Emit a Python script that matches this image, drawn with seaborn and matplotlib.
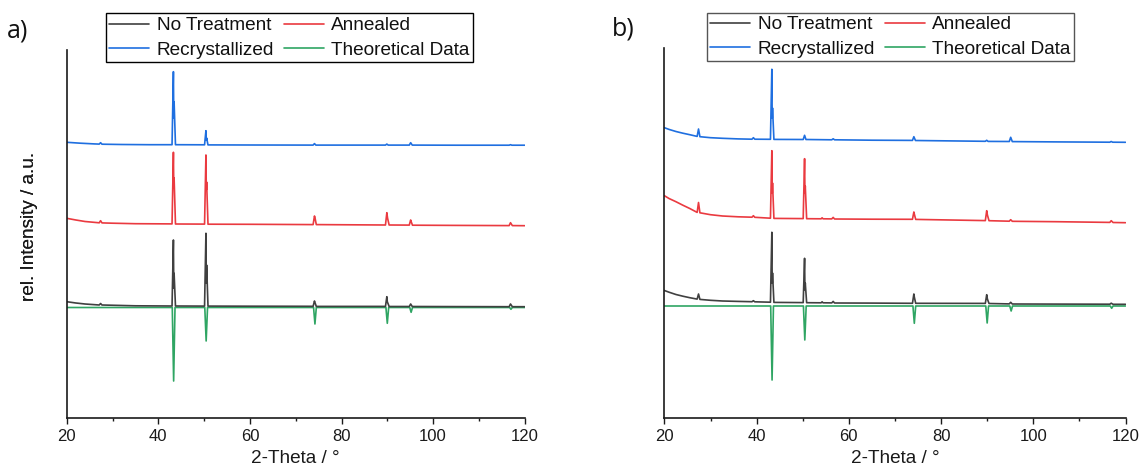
import numpy as np
import pandas as pd
import matplotlib
matplotlib.use("Agg")
import matplotlib.pyplot as plt
from matplotlib.ticker import MultipleLocator
import seaborn as sns

# ---------------- data (2-Theta in deg, rel. intensity in a.u., offset stacked) -------------
series_names = ["No Treatment", "Annealed", "Recrystallized", "Theoretical Data"]
colors = {"No Treatment": "#404040", "Annealed": "#ea3a40",
          "Recrystallized": "#1f6fe0", "Theoretical Data": "#2fa563"}

# panel a)
blue_a = [(20, 275.7), (23, 274.8), (26, 274.1), (27.1, 273.9), (27.4, 275.3), (27.7, 273.8), (32, 273.5),
          (38, 273.3), (43.0, 273.3), (43.3, 346.3), (43.38, 300), (43.45, 316.3), (43.75, 273.3),
          (50.1, 273.2), (50.4, 287.3), (50.48, 278), (50.55, 280), (50.85, 273.1), (60, 273.0),
          (73.8, 272.9), (74.1, 274.4), (74.4, 272.9), (89.6, 272.9), (89.9, 273.9), (90.2, 272.9),
          (94.8, 272.9), (95.1, 275.3), (95.45, 272.9), (105, 272.8), (116.6, 272.8), (116.9, 273.3),
          (117.2, 272.8), (120, 272.8)]
red_a = [(20, 199.7), (22, 198.0), (24, 196.5), (27.1, 195.2), (27.4, 197.3), (27.7, 195.1), (30, 194.8),
         (35, 194.3), (43.0, 194.1), (43.3, 265.7), (43.38, 230), (43.45, 240), (43.75, 194.0),
         (50.1, 193.9), (50.4, 263.0), (50.48, 228), (50.55, 236), (50.85, 193.8), (60, 193.7),
         (73.8, 193.4), (74.1, 202.0), (74.2, 200.5), (74.5, 193.4), (89.6, 193.0), (89.9, 205.3),
         (90.05, 200), (90.4, 193.0), (94.8, 192.9), (95.1, 198.0), (95.2, 196.5), (95.5, 192.8),
         (105, 192.6), (116.6, 192.4), (116.9, 195.3), (117.3, 192.4), (120, 192.3)]
black_a = [(20, 116.3), (22, 115.0), (24, 114.0), (27.1, 113.0), (27.4, 114.5), (27.7, 113.0), (35, 112.2),
           (43.0, 112.0), (43.3, 178.0), (43.38, 130), (43.45, 144.7), (43.75, 112.0), (50.1, 111.9),
           (50.4, 184.7), (50.48, 135), (50.55, 153.0), (50.85, 111.9), (60, 111.8), (73.8, 111.7),
           (74.1, 117.0), (74.2, 115.5), (74.5, 111.6), (89.6, 111.6), (89.9, 121.3), (90.0, 116.3),
           (90.4, 111.5), (94.8, 111.5), (95.1, 114.0), (95.45, 111.5), (105, 111.4), (116.6, 111.3),
           (116.9, 114.0), (117.3, 111.3), (120, 111.3)]
green_a = [(20, 110.5), (43.05, 110.5), (43.35, 37.0), (43.65, 110.5), (50.15, 110.5), (50.45, 77.0),
           (50.75, 110.5), (73.9, 110.5), (74.2, 94.0), (74.5, 110.5), (89.7, 110.5), (90.0, 94.7),
           (90.3, 110.5), (94.9, 110.5), (95.2, 105.7), (95.5, 110.5), (116.7, 110.5), (117.0, 108.7),
           (117.3, 110.5), (120, 110.5)]

# panel b)
blue_b = [(20, 290.3), (21, 288.6), (22.5, 286.5), (24, 284.8), (25.5, 283.3), (27.1, 281.6), (27.4, 289.0),
          (27.7, 281.3), (30, 280.3), (32.6, 279.7), (36, 279.1), (39.0, 278.8), (39.3, 280.3),
          (39.6, 278.8), (43.0, 278.7), (43.3, 348.7), (43.38, 300), (43.45, 310), (43.75, 278.6),
          (50.1, 278.5), (50.4, 282.7), (50.7, 278.5), (56.3, 278.2), (56.6, 279.2), (56.9, 278.2),
          (65, 277.8), (73.8, 277.6), (74.1, 281.3), (74.45, 277.5), (89.6, 276.7), (89.9, 277.7),
          (90.2, 276.6), (94.8, 276.5), (95.1, 280.7), (95.45, 276.4), (105, 276.1), (116.6, 275.8),
          (116.9, 276.5), (117.2, 275.8), (120, 275.7)]
red_b = [(20, 222.3), (21, 219.5), (22.5, 216.3), (24, 212.8), (25.5, 209.5), (27.1, 205.6), (27.4, 215.5),
         (27.7, 205.2), (30, 203.3), (32.6, 202.0), (36, 201.2), (39.0, 200.8), (39.3, 202.3),
         (39.6, 200.7), (43.0, 199.8), (43.3, 267.3), (43.38, 225), (43.45, 235), (43.75, 199.6),
         (50.1, 199.4), (50.4, 259.3), (50.48, 225), (50.55, 232), (50.85, 199.3), (54.0, 199.2),
         (54.2, 200.2), (54.4, 199.2), (56.3, 199.1), (56.6, 200.6), (56.9, 199.0), (65, 198.8),
         (73.8, 198.7), (74.1, 206.0), (74.2, 204.0), (74.5, 198.6), (89.6, 197.4), (89.9, 207.3),
         (90.05, 203.0), (90.4, 197.3), (94.8, 196.8), (95.1, 198.3), (95.45, 196.7), (105, 196.3),
         (116.6, 195.6), (116.9, 197.3), (117.3, 195.5), (120, 195.3)]
black_b = [(20, 127.5), (21, 125.8), (22.5, 123.5), (24, 121.8), (25.5, 120.3), (27.1, 118.9), (27.4, 124.0),
           (27.7, 118.6), (30, 117.7), (32.6, 117.0), (36, 116.6), (39.0, 116.3), (39.3, 117.3),
           (39.6, 116.2), (43.0, 115.8), (43.3, 185.7), (43.38, 135), (43.45, 145), (43.75, 115.6),
           (50.1, 115.4), (50.4, 159.7), (50.48, 128), (50.55, 135), (50.85, 115.3), (54.0, 115.2),
           (54.2, 116.2), (54.4, 115.2), (56.3, 115.1), (56.6, 116.6), (56.9, 115.0), (65, 114.9),
           (73.8, 114.7), (74.1, 124.0), (74.2, 121.0), (74.5, 114.7), (89.6, 114.6), (89.9, 123.3),
           (90.05, 119.0), (90.4, 114.5), (94.8, 114.1), (95.1, 115.7), (95.45, 114.0), (105, 113.9),
           (116.6, 113.8), (116.9, 114.8), (117.3, 113.7), (120, 113.7)]
green_b = [(20, 112.0), (43.05, 112.0), (43.35, 38.0), (43.65, 112.0), (50.15, 112.0), (50.45, 78.0),
           (50.75, 112.0), (73.9, 112.0), (74.2, 94.7), (74.5, 112.0), (89.7, 112.0), (90.0, 95.0),
           (90.3, 112.0), (94.9, 112.0), (95.2, 107.0), (95.5, 112.0), (116.7, 112.0), (117.0, 109.7),
           (117.3, 112.0), (120, 112.0)]

panels = {
    "a)": {"No Treatment": black_a, "Annealed": red_a, "Recrystallized": blue_a, "Theoretical Data": green_a},
    "b)": {"No Treatment": black_b, "Annealed": red_b, "Recrystallized": blue_b, "Theoretical Data": green_b},
}
x_ticks = [20, 40, 60, 80, 100, 120]

# ---------------- style -------------
sns.set_theme(style="ticks")
plt.rcParams["font.family"] = ["Liberation Sans", "DejaVu Sans"]

W, H = 1139, 472
fig = plt.figure(figsize=(W / 100, H / 100), dpi=100)

layout = {
    "a)": dict(rect=(66.7, 50.0, 524.7, 418.0), ylim=(0, 368.0), lab=(7, 31), legx=106, legy=13.5, edge="#000000"),
    "b)": dict(rect=(664.4, 47.7, 1125.5, 418.0), ylim=(0, 370.3), lab=(612, 29), legx=707, legy=12.7, edge="#555555"),
}

draw_order = ["Theoretical Data", "No Treatment", "Annealed", "Recrystallized"]
legend_order = ["No Treatment", "Recrystallized", "Annealed", "Theoretical Data"]

for key, data in panels.items():
    L = layout[key]
    x0, y0, x1, y1 = L["rect"]
    ax = fig.add_axes([x0 / W, 1 - y1 / H, (x1 - x0) / W, (y1 - y0) / H])
    handles = {}
    for name in draw_order:
        arr = np.array(data[name], dtype=float)
        df = pd.DataFrame({"x": arr[:, 0], "y": arr[:, 1]})
        sns.lineplot(data=df, x="x", y="y", ax=ax, color=colors[name], lw=1.2,
                     sort=False, estimator=None, label=name)
        handles[name] = ax.get_lines()[-1]
    if ax.get_legend() is not None:
        ax.get_legend().remove()

    ax.set_xlim(20, 120)
    ax.set_ylim(*L["ylim"])
    ax.set_xticks(x_ticks)
    ax.xaxis.set_minor_locator(MultipleLocator(10))
    ax.set_yticks([])
    for s in ["top", "right"]:
        ax.spines[s].set_visible(False)
    for s in ["left", "bottom"]:
        ax.spines[s].set_color("#1a1a1a")
        ax.spines[s].set_linewidth(1.2)
    ax.tick_params(axis="x", which="major", direction="out", length=4, width=1.0,
                   color="#1a1a1a", labelsize=12, pad=4, labelcolor="#1a1a1a")
    ax.tick_params(axis="x", which="minor", direction="out", length=2.5, width=1.0, color="#1a1a1a")
    ax.set_xlabel("2-Theta / °", fontsize=13.7, color="#1a1a1a")
    ax.set_ylabel("rel. Intensity / a.u.", fontsize=13.7, color="#1a1a1a")
    ax_h = y1 - y0
    ax_w = x1 - x0
    ax.xaxis.set_label_coords(0.5, -(450 - y1) / ax_h)
    ax.yaxis.set_label_coords(-(x0 - 37.5) / ax_w, (y1 - 226) / ax_h)
    ax.set_facecolor("white")

    leg = ax.legend([handles[n] for n in legend_order], legend_order, ncol=2,
                    loc="upper left", bbox_to_anchor=(L["legx"] / W, 1 - L["legy"] / H),
                    bbox_transform=fig.transFigure, frameon=True, fancybox=False,
                    edgecolor=L["edge"], framealpha=1, fontsize=13.7, borderpad=0.18,
                    labelspacing=0.38, handlelength=2.1, handletextpad=0.4,
                    columnspacing=0.5, borderaxespad=0)
    leg.get_frame().set_linewidth(1.0)
    for t in leg.get_texts():
        t.set_color("#111111")

    fig.text(L["lab"][0] / W, 1 - L["lab"][1] / H, key, fontsize=18, ha="left", va="center",
             family=["Open Sans", "DejaVu Sans"], color="#111111")

fig.savefig("out.png", dpi=100)
